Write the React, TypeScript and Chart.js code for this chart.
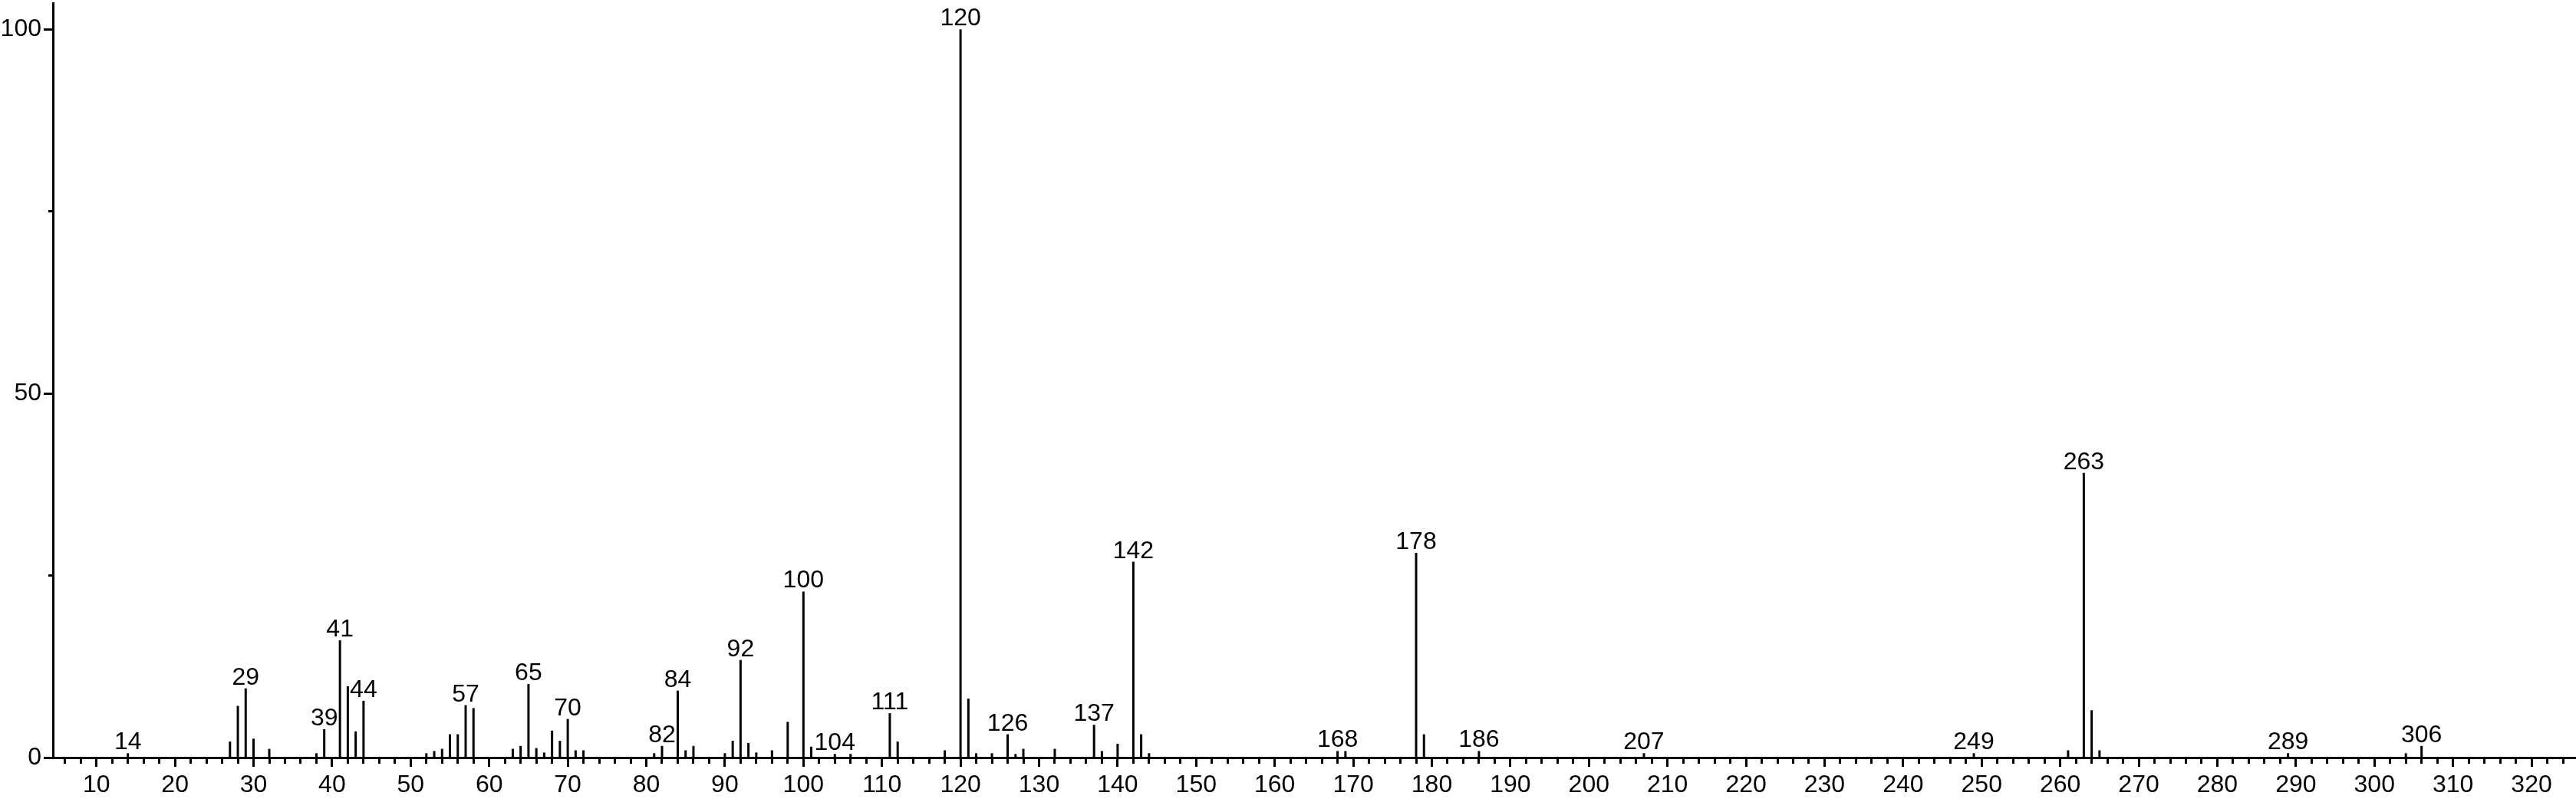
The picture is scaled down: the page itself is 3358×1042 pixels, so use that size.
import React, { useEffect, useRef } from 'react';
import { Chart, registerables } from 'chart.js';

Chart.register(...registerables);

// m/z values of the peaks
const mzValues: number[] = [
  14, 27, 28, 29, 30, 32, 38, 39, 41, 42, 43, 44,
  52, 53, 54, 55, 56, 57, 58, 63, 64, 65, 66, 67, 68, 69, 70, 71, 72,
  81, 82, 84, 85, 86, 90, 91, 92, 93, 94, 96, 98, 100, 101, 104, 106,
  111, 112, 118, 120, 121, 122, 124, 126, 127, 128, 132, 137, 138, 140,
  142, 143, 144, 168, 169, 178, 179, 186, 207, 249, 261, 263, 264, 265,
  289, 304, 306,
];

// relative intensities (%)
const intensities: number[] = [
  0.6, 2.2, 7.1, 9.5, 2.6, 1.2, 0.6, 3.9, 16.1, 9.8, 3.6, 7.8,
  0.6, 0.9, 1.2, 3.2, 3.2, 7.2, 6.8, 1.2, 1.6, 10.1, 1.3, 0.7, 3.7, 2.3, 5.3, 1.0, 1.0,
  0.6, 1.6, 9.2, 1.0, 1.6, 0.6, 2.3, 13.4, 2.0, 0.7, 1.0, 4.9, 22.8, 1.5, 0.5, 0.5,
  6.1, 2.2, 1.0, 100, 8.1, 0.6, 0.6, 3.2, 0.5, 1.2, 1.2, 4.5, 0.9, 1.9,
  26.9, 3.2, 0.6, 0.9, 0.9, 28.1, 3.2, 0.9, 0.6, 0.6, 1.0, 39.1, 6.5, 1.0,
  0.6, 0.6, 1.6,
];

// peaks that carry an m/z annotation
const labeledPeaks: number[] = [
  14, 29, 39, 41, 44, 57, 65, 70, 82, 84, 92, 100, 104, 111, 120, 126,
  137, 142, 168, 178, 186, 207, 249, 263, 289, 306,
];

// axis tick settings
const xMajorStep = 10;
const xMinorStep = 2;
const yMajorStep = 50;
const yMinorStep = 25;
const xRange = [4.46, 325.66];
const yRange = [0, 103.6];

const W = 3358;
const H = 1042;
const FAMILY = '"Liberation Sans", Arial, Helvetica, sans-serif';
const FONT_SIZE = 32;

const isMultiple = (v: number, step: number) => {
  const r = Math.abs(v % step);
  return r < 1e-6 || Math.abs(r - step) < 1e-6;
};

const peakLabelPlugin = {
  id: 'peakLabels',
  afterDatasetsDraw(chart: any) {
    const { ctx, scales } = chart;
    const x = scales.x;
    const y = scales.y;
    ctx.save();
    ctx.font = `${FONT_SIZE}px ${FAMILY}`;
    ctx.fillStyle = '#000';
    ctx.textAlign = 'center';
    ctx.textBaseline = 'alphabetic';
    labeledPeaks.forEach((m) => {
      const i = mzValues.indexOf(m);
      if (i < 0) return;
      const v = intensities[i];
      ctx.fillText(String(m), x.getPixelForValue(m), y.getPixelForValue(v) - 5);
    });
    ctx.restore();
  },
};

export default function App() {
  const canvasRef = useRef<HTMLCanvasElement | null>(null);

  useEffect(() => {
    const canvas = canvasRef.current;
    if (!canvas) return;
    const chart = new Chart(canvas, {
      type: 'bar',
      data: {
        datasets: [
          {
            data: mzValues.map((m, i) => ({ x: m, y: intensities[i] })),
            backgroundColor: '#000',
            borderWidth: 0,
            barThickness: 3,
            inflateAmount: 0,
          } as any,
        ],
      },
      options: {
        animation: false,
        responsive: false,
        devicePixelRatio: 1,
        layout: { padding: { top: 4, left: 0, right: 0, bottom: 0 } },
        plugins: {
          legend: { display: false },
          tooltip: { enabled: false },
        },
        scales: {
          x: {
            type: 'linear',
            min: xRange[0],
            max: xRange[1],
            offset: false,
            grid: {
              offset: false,
              drawOnChartArea: false,
              drawTicks: true,
              tickLength: 12,
              tickWidth: 3,
              tickColor: '#000',
              tickBorderDash: (c: any) =>
                c.tick && isMultiple(c.tick.value, xMajorStep) ? [] : [6, 100],
            },
            border: { display: true, color: '#000', width: 3 },
            ticks: {
              stepSize: xMinorStep,
              autoSkip: false,
              includeBounds: false,
              maxRotation: 0,
              minRotation: 0,
              padding: 5,
              color: '#000',
              font: { family: FAMILY, size: FONT_SIZE },
              callback: (v: any) => (isMultiple(Number(v), xMajorStep) ? String(Math.round(Number(v))) : ''),
            },
            afterFit: (s: any) => {
              s.height = 54;
              s.paddingLeft = 0;
              s.paddingRight = 0;
            },
          },
          y: {
            type: 'linear',
            min: yRange[0],
            max: yRange[1],
            grid: {
              drawOnChartArea: false,
              drawTicks: true,
              tickLength: 12,
              tickWidth: 3,
              tickColor: '#000',
              tickBorderDash: (c: any) =>
                c.tick && isMultiple(c.tick.value, yMajorStep) ? [] : [0, 6, 6, 100],
            },
            border: { display: true, color: '#000', width: 3 },
            ticks: {
              stepSize: yMinorStep,
              autoSkip: false,
              includeBounds: false,
              padding: 3,
              color: '#000',
              font: { family: FAMILY, size: FONT_SIZE },
              callback: (v: any) => (isMultiple(Number(v), yMajorStep) ? String(Math.round(Number(v))) : ''),
            },
            afterFit: (s: any) => {
              s.width = 69;
              s.paddingTop = 0;
              s.paddingBottom = 0;
            },
          },
        },
      } as any,
      plugins: [peakLabelPlugin],
    });
    return () => chart.destroy();
  }, []);

  return (
    <div style={{ position: 'fixed', left: 0, top: 0, width: W, height: H, background: '#fff' }}>
      <canvas ref={canvasRef} width={W} height={H} style={{ width: W, height: H, display: 'block' }} />
    </div>
  );
}
